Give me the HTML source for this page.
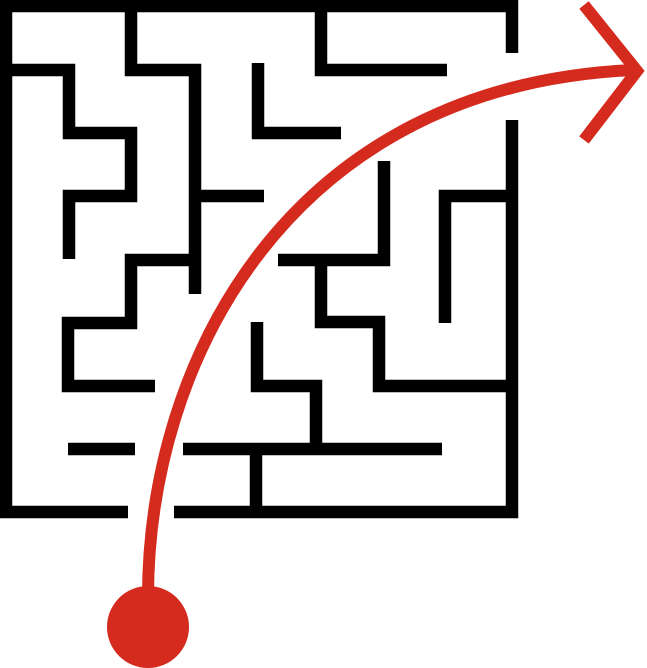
<!DOCTYPE html>
<html><head><meta charset="utf-8"><style>html,body{margin:0;padding:0;background:#fff;width:647px;height:668px;overflow:hidden}</style></head>
<body>
<svg width="647" height="668" viewBox="0 0 647 668" xmlns="http://www.w3.org/2000/svg">
<g fill="none" stroke="#000" stroke-width="12.5" stroke-linecap="butt" stroke-linejoin="miter">
<path d="M512,53 V6 H6 V512 H128 M174,512 H512 V120"/>
<path d="M131,6 V70 H195 V294 M195,196 H264"/>
<path d="M0,70 H69 V133 H131 V196 H69 V259"/>
<path d="M258,63 V133 H341"/>
<path d="M321,6 V70 H447"/>
<path d="M195,260 H131 V323 H68 V386 H155"/>
<path d="M68,449 H135"/>
<path d="M257,322 V386 H316 V449 M183,449 H442 M256,449 V512"/>
<path d="M384,161 V260 H278 M321,260 V322 H379 V386 H512"/>
<path d="M445,323 V196 H512"/>
</g>
<g fill="none" stroke="#d52b1e" stroke-width="12">
<path d="M148,600 C147,360 290,85 634,70"/>
<path d="M584,5 L637,71 L584,140"/>
</g>
<circle cx="148" cy="627" r="41" fill="#d52b1e"/>
</svg>
</body></html>
